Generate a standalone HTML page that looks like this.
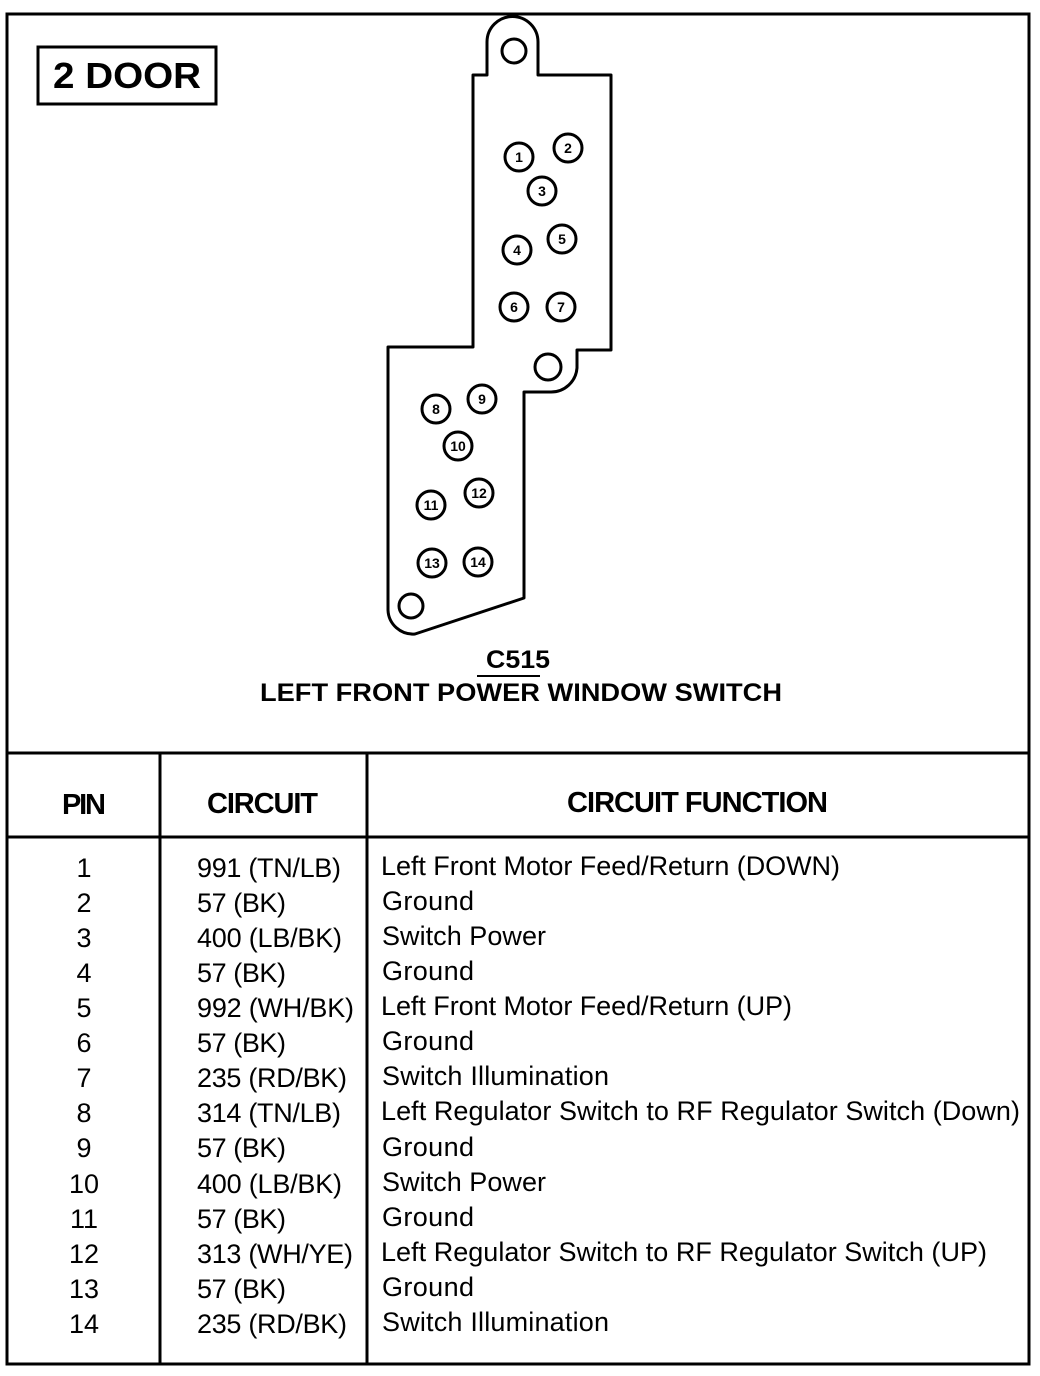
<!DOCTYPE html>
<html><head><meta charset="utf-8"><style>html,body{margin:0;padding:0;background:#fff}svg{display:block}</style></head>
<body>
<svg width="1040" height="1376" viewBox="0 0 1040 1376" xmlns="http://www.w3.org/2000/svg" font-family="Liberation Sans, Arial, sans-serif">
<rect x="7" y="14" width="1022" height="1350" fill="none" stroke="#000" stroke-width="3"/>
<line x1="7" y1="753" x2="1029" y2="753" stroke="#000" stroke-width="3"/>
<line x1="7" y1="837" x2="1029" y2="837" stroke="#000" stroke-width="3"/>
<line x1="160" y1="753" x2="160" y2="1364" stroke="#000" stroke-width="3"/>
<line x1="367" y1="753" x2="367" y2="1364" stroke="#000" stroke-width="3"/>
<rect x="38" y="47" width="178" height="57" fill="none" stroke="#000" stroke-width="3"/>
<text x="127" y="88" font-size="36" font-weight="bold" text-anchor="middle" textLength="148" lengthAdjust="spacingAndGlyphs">2 DOOR</text>
<path d="M473,75 L487,75 L487,42 A25.5,25.5 0 0 1 538,42 L538,75 L611,75 L611,350 L577,350 L577,368 A26,26 0 0 1 551,392 L524,392 L524,598 L415,634 A25,25 0 0 1 388,610 L388,347 L473,347 Z" fill="none" stroke="#000" stroke-width="3" stroke-linejoin="round"/>
<circle cx="514" cy="51" r="12" fill="none" stroke="#000" stroke-width="3"/>
<circle cx="548" cy="367" r="13" fill="none" stroke="#000" stroke-width="3"/>
<circle cx="411" cy="606" r="12" fill="none" stroke="#000" stroke-width="3"/>
<g fill="none" stroke="#000" stroke-width="3">
<circle cx="519" cy="157" r="14"/><circle cx="568" cy="148" r="14"/><circle cx="542" cy="191" r="14"/>
<circle cx="517" cy="250" r="14"/><circle cx="562" cy="239" r="14"/><circle cx="514" cy="307" r="14"/>
<circle cx="561" cy="307" r="14"/><circle cx="436" cy="409" r="14"/><circle cx="482" cy="399" r="14"/>
<circle cx="458" cy="446" r="14"/><circle cx="431" cy="505" r="14"/><circle cx="479" cy="493" r="14"/>
<circle cx="432" cy="563" r="14"/><circle cx="478" cy="562" r="14"/>
</g>
<g font-size="14" font-weight="bold" text-anchor="middle">
<text x="519" y="162">1</text><text x="568" y="153">2</text><text x="542" y="196">3</text>
<text x="517" y="255">4</text><text x="562" y="244">5</text><text x="514" y="312">6</text>
<text x="561" y="312">7</text><text x="436" y="414">8</text><text x="482" y="404">9</text>
<text x="458" y="451">10</text><text x="431" y="510">11</text><text x="479" y="498">12</text>
<text x="432" y="568">13</text><text x="478" y="567">14</text>
</g>
<text x="486" y="668" font-size="25" font-weight="bold" textLength="64" lengthAdjust="spacingAndGlyphs">C515</text>
<line x1="477" y1="676" x2="540" y2="676" stroke="#000" stroke-width="2"/>
<text x="260" y="701" font-size="25" font-weight="bold" textLength="522" lengthAdjust="spacingAndGlyphs">LEFT FRONT POWER WINDOW SWITCH</text>
<g font-size="29" font-weight="bold" lengthAdjust="spacingAndGlyphs">
<text x="62" y="814" textLength="44">PIN</text>
<text x="207" y="813" textLength="111">CIRCUIT</text>
<text x="567" y="812" textLength="261">CIRCUIT FUNCTION</text>
</g>
<g font-size="27">
<g text-anchor="middle">
<text x="84" y="877">1</text><text x="84" y="912">2</text><text x="84" y="947">3</text><text x="84" y="982">4</text>
<text x="84" y="1017">5</text><text x="84" y="1052">6</text><text x="84" y="1087">7</text><text x="84" y="1122">8</text>
<text x="84" y="1157">9</text><text x="84" y="1193">10</text><text x="84" y="1228">11</text><text x="84" y="1263">12</text>
<text x="84" y="1298">13</text><text x="84" y="1333">14</text>
</g>
<g lengthAdjust="spacingAndGlyphs">
<text x="197" y="877" textLength="144">991 (TN/LB)</text>
<text x="197" y="912" textLength="89">57 (BK)</text>
<text x="197" y="947" textLength="145">400 (LB/BK)</text>
<text x="197" y="982" textLength="89">57 (BK)</text>
<text x="197" y="1017" textLength="157">992 (WH/BK)</text>
<text x="197" y="1052" textLength="89">57 (BK)</text>
<text x="197" y="1087" textLength="150">235 (RD/BK)</text>
<text x="197" y="1122" textLength="144">314 (TN/LB)</text>
<text x="197" y="1157" textLength="89">57 (BK)</text>
<text x="197" y="1193" textLength="145">400 (LB/BK)</text>
<text x="197" y="1228" textLength="89">57 (BK)</text>
<text x="197" y="1263" textLength="156">313 (WH/YE)</text>
<text x="197" y="1298" textLength="89">57 (BK)</text>
<text x="197" y="1333" textLength="150">235 (RD/BK)</text>
<text x="381" y="875" textLength="459">Left Front Motor Feed/Return (DOWN)</text>
<text x="382" y="910" textLength="92">Ground</text>
<text x="382" y="945" textLength="164">Switch Power</text>
<text x="382" y="980" textLength="92">Ground</text>
<text x="381" y="1015" textLength="411">Left Front Motor Feed/Return (UP)</text>
<text x="382" y="1050" textLength="92">Ground</text>
<text x="382" y="1085" textLength="227">Switch Illumination</text>
<text x="381" y="1120" textLength="639">Left Regulator Switch to RF Regulator Switch (Down)</text>
<text x="382" y="1156" textLength="92">Ground</text>
<text x="382" y="1191" textLength="164">Switch Power</text>
<text x="382" y="1226" textLength="92">Ground</text>
<text x="381" y="1261" textLength="606">Left Regulator Switch to RF Regulator Switch (UP)</text>
<text x="382" y="1296" textLength="92">Ground</text>
<text x="382" y="1331" textLength="227">Switch Illumination</text>
</g>
</g>
</svg>
</body></html>
